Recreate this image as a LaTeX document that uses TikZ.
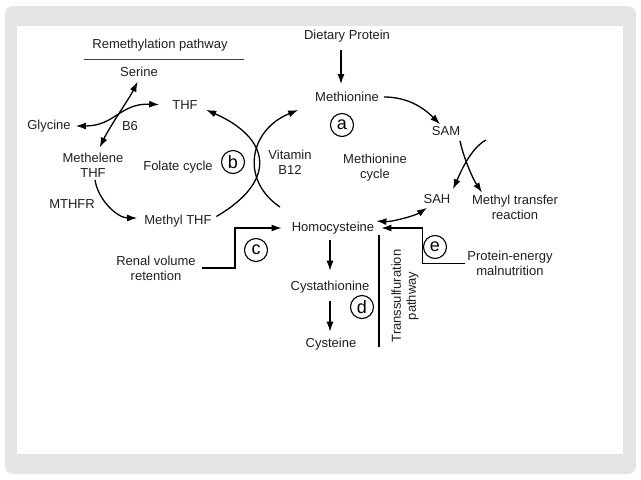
\documentclass[tikz,border=0pt]{standalone}
\usepackage{fontspec}
\setmainfont{Liberation Sans}
\usetikzlibrary{arrows.meta}

\tikzset{
    txt/.style={font=\fontsize{13}{15}\selectfont, align=center, inner sep=2pt, text=black!88},
    arr/.style={line width=1.3pt, -{Latex[length=10pt,width=7pt]}},
    darr/.style={line width=1.3pt, {Latex[length=10pt,width=7pt]}-{Latex[length=10pt,width=7pt]}},
    circ/.style={draw, circle, line width=1.1pt, minimum size=23pt, inner sep=0pt, font=\fontsize{18}{18}\selectfont},
}

\begin{document}
\begin{tikzpicture}[x=1pt, y=-1pt]
    \useasboundingbox (0,0) rectangle (641,480);

    % slide frame
    \fill[gray!20, rounded corners=8pt] (5,6) rectangle (636,474);
    \fill[white] (17,26) rectangle (623,454);

    \def \hy {228};

    % remethylation / folate cycle
    \node[txt] (rem) at (160,45) {Remethylation pathway};
    \draw[line width=0.8pt, black!75] (84,59) -- (244,59);
    \node[txt] (ser) at (139,72) {Serine};
    \node[txt] (thf) at (185,105) {THF};
    \node[txt] (gly) at (49,126) {Glycine};
    \node[txt] (bsix) at (130,126) {B6};
    \node[txt] (mlthf) at (93,165.5) {Methelene\\THF};
    \node[txt] (folate) at (178,167) {Folate cycle};
    \node[txt] (vitb) at (290,162.5) {Vitamin\\B12};
    \node[txt] (mthfr) at (72,204) {MTHFR};
    \node[txt] (methf) at (178,221) {Methyl THF};

    % methionine cycle
    \node[txt] (diet) at (347,36) {Dietary Protein};
    \node[txt] (met) at (347,97) {Methionine};
    \node[txt] (metcyc) at (375,167.5) {Methionine\\cycle};
    \node[txt] (sam) at (446,131) {SAM};
    \node[txt] (sah) at (437,199) {SAH};
    \node[txt] (mtr) at (515,207) {Methyl transfer\\reaction};
    \node[txt] (hcy) at (333,\hy) {Homocysteine};

    % inputs and transsulfuration
    \node[txt] (renal) at (156,268) {Renal volume\\retention};
    \node[txt] (pem) at (510,263.5) {Protein-energy\\malnutrition};
    \node[txt] (cysta) at (330,287) {Cystathionine};
    \node[txt] (cys) at (331,344) {Cysteine};
    \node[txt, rotate=90] (trans) at (405,296) {Transsulfuration\\pathway};

    \foreach \n/\x/\y in {a/342/125, b/233/162, c/256/250, d/362/307, e/435/247}
        \node[circ] (c\n) at (\x,\y) {\n};

    % \draw[darr] (gly.east) -- (thf.west);
    \draw[darr, shorten <=3pt, shorten >=11pt] (gly.east) .. controls +(42,0) and +(-50,-2) .. (thf.west);
    \draw[darr, shorten <=3pt, shorten >=4pt] (ser.south) .. controls +(-10,20) and +(12,-25) .. ([xshift=5pt]mlthf.north);
    \draw[arr, shorten >=5pt] ([xshift=2pt]mlthf.south) .. controls +(3,20) and +(-25,0) .. ([yshift=3pt]methf.west);
    \draw[arr, shorten <=3pt, shorten >=7pt] ([yshift=3pt]methf.east) .. controls +(65,-38) and +(70,31) .. ([yshift=-2pt]thf.east);

    \coordinate (bstart) at (280,207);
    \draw[arr, shorten >=16pt] (bstart) .. controls +(-40,-27) and +(-64,26) .. (met.south west);

    \draw[arr, shorten <=6pt, shorten >=6pt] ([xshift=-6pt]diet.south) -- ([xshift=-6pt]met.north);
    \draw[arr, shorten <=3pt] (met.east) .. controls +(25,0) and +(-18,-18) .. ([xshift=-6pt]sam.north);
    \draw[arr] ([xshift=14pt,yshift=-3pt]sam.south) .. controls +(3,15) and +(-10,-15) .. ([xshift=-33pt]mtr.north);

    \coordinate (acc) at (486,140);
    \draw[arr] (acc) .. controls +(-15,8) and +(8,-18) .. ([xshift=16pt,yshift=3pt]sah.north);
    \draw[darr] ([xshift=-10pt,yshift=-2pt]sah.south) .. controls +(-12,8) and +(15,1) .. ([yshift=7pt]hcy.east);

    \draw[arr, shorten >=5pt] (pem.west) -- ++(-43,0) |- (hcy.east);
    \draw[arr, shorten <=4pt, shorten >=8pt] (renal.east) -- ++(37,0) |- (hcy.west);

    \draw[arr, shorten <=4pt, shorten >=8pt] (cysta.north |- hcy.south) -- (cysta.north);
    \draw[arr, shorten <=6pt, shorten >=4pt] (cysta.south) -- (cysta.south |- cys.north);
    \draw[line width=1.1pt] (379,235) -- (379,347);

\end{tikzpicture}
\end{document}
